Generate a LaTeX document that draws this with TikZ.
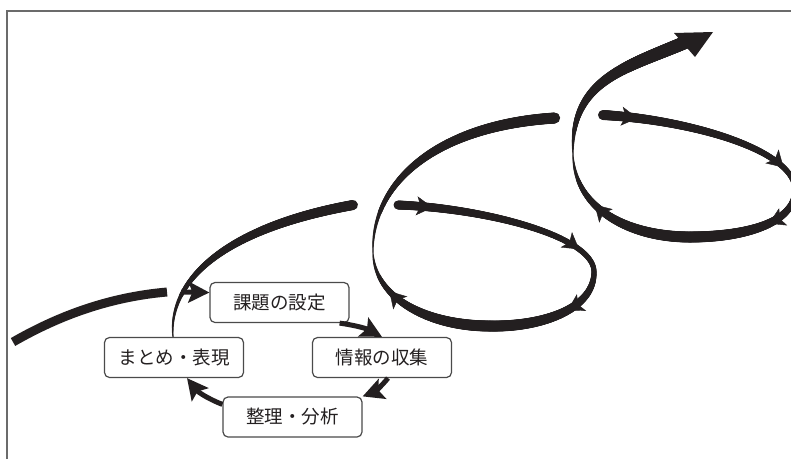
\documentclass[tikz,border=0pt]{standalone}
\usepackage{fontspec}
\newfontfamily\jpfont{Noto Sans CJK JP}
\usetikzlibrary{
  arrows.meta,
  decorations.markings,
}
\definecolor{ink}{HTML}{231F20}
\definecolor{rim}{HTML}{4A4A4A}
\definecolor{frameline}{HTML}{6B6B6B}
\tikzset{
  >=Stealth,
  ribbon/.style n args={3}{
    decoration={markings,
      mark=between positions 0 and 1 step 0.5pt with {
        \pgfmathsetmacro{\rs}{\pgfkeysvalueof{/pgf/decoration/mark info/distance from start}/\pgfdecoratedpathlength}
        \pgfmathsetmacro{\rr}{#1+(#2-#1)*(\rs+(#3)*\rs*(1-\rs))}
        \fill[ink] (0,0) circle (\rr pt);
      }},
    decorate},
  tips/.style={decoration=markings, decorate},
  dart/.style={decoration={mark=at position #1 with
      {\arrow[ink]{Stealth[length=16pt,width=19pt,inset=4pt]}}}},
  stage/.style={draw=rim, line width=1.2pt, rounded corners=5pt, fill=white,
    text=ink, minimum width=139pt, minimum height=40pt, inner sep=0pt,
    font=\jpfont\fontsize{18.5}{20}\selectfont},
  flow/.style={draw=ink, line width=5pt,
    -{Stealth[length=21pt,width=21pt,inset=4pt]}},
}

\begin{document}
\begin{tikzpicture}[x=1pt,y=-1pt]
  \useasboundingbox (0,0) rectangle (791,459);

  % frame
  \draw[frameline, line width=2pt] (7,459) -- (7,11) -- (791,11);

  % first turn
  \draw[ink, line width=9pt] (13,342) .. controls (60,315) and (110,297) .. (167,292);
  \path[ribbon={0.6}{5}{1}] (173,337) .. controls (168,280) and (225,228) .. (353,205);
  \coordinate (turn) at (181,292);

  % second turn
  \path[ribbon={4.5}{2.5}{0}]
    (398,205) .. controls (480,208) and (594,235) .. (594,272);
  \path[ribbon={2.5}{5.5}{1}]
    (594,272) .. controls (594,310) and (540,327) .. (490,326);
  \path[ribbon={5.5}{0.5}{-1}]
    (490,326) .. controls (430,326) and (375,300) .. (373,253);
  \path[ribbon={0.5}{5.5}{1}]
    (373,253) .. controls (371,180) and (440,125) .. (555,118);
  \path[tips, dart=0.16, dart=0.87]
    (398,205) .. controls (480,208) and (594,235) .. (594,272);
  \path[tips, dart=0.38]
    (594,272) .. controls (594,310) and (540,327) .. (490,326);
  \path[tips, dart=0.72]
    (490,326) .. controls (430,326) and (375,300) .. (373,253);

  % third turn
  \path[ribbon={5}{2.5}{0}]
    (603,115) .. controls (690,120) and (795,150) .. (795,190);
  \path[ribbon={2.5}{5.5}{1}]
    (795,190) .. controls (795,225) and (740,237) .. (690,237);
  \path[ribbon={5.5}{0.5}{-1}]
    (690,237) .. controls (630,237) and (575,210) .. (573,155);
  \path[ribbon={0.5}{6.5}{1}]
    (573,155) .. controls (570,80) and (625,68) .. (686,42);
  \fill[ink] (674,33) -- (713,32) -- (695,57) -- cycle;
  \path[tips, dart=0.16, dart=0.88]
    (603,115) .. controls (690,120) and (795,150) .. (795,190);
  \path[tips, dart=0.36]
    (795,190) .. controls (795,225) and (740,237) .. (690,237);
  \path[tips, dart=0.65]
    (690,237) .. controls (630,237) and (575,210) .. (573,155);

  % stages
  \node[stage] (kadai)  at (279.5,302.5) {課題の設定};
  \node[stage] (matome) at (174,357.5)   {まとめ・表現};
  \node[stage] (joho)   at (382,357.5)   {情報の収集};
  \node[stage] (seiri)  at (292.5,417)   {整理・分析};

  \draw[flow] (turn) -- ([yshift=10pt]kadai.west);
  \draw[flow] ([xshift=-10pt]kadai.south east) to[bend left=10] (joho.north);
  \draw[flow] ([xshift=6pt]joho.south) to[bend left=15] (seiri.north east);
  \draw[flow] ([yshift=-8pt]seiri.north west) to[bend left=15] ([xshift=13pt]matome.south);
\end{tikzpicture}
\end{document}
